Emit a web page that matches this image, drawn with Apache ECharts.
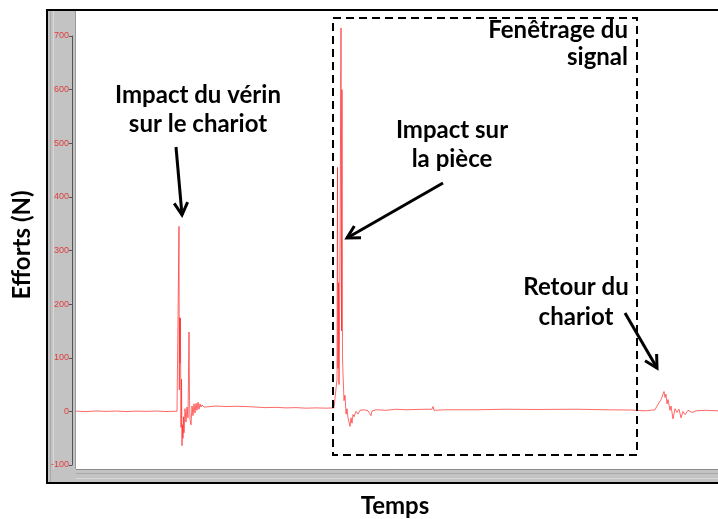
<!DOCTYPE html>
<html>
<head>
<meta charset="utf-8">
<script src="https://cdn.jsdelivr.net/npm/echarts@6/dist/echarts.min.js"></script>
<style>
  html, body { margin: 0; padding: 0; background: #fff; }
  #chart { width: 718px; height: 519px; }
</style>
</head>
<body>
<div id="chart"></div>
<script>
// Force signal recorded by the sensor: sample index and effort (N)
const sampleIndex = [
  0, 10, 20, 30, 40, 50, 60, 70, 80, 90, 101,
  102, 103, 103.3, 103.6, 104, 104.4, 105, 105.5, 106, 106.5, 107, 107.5, 108, 109, 110, 111, 112,
  113, 113.5, 114, 115, 116, 117, 118, 119, 120, 121, 122, 123, 124, 125, 126, 128, 130, 135, 140,
  150, 160, 170, 171, 172, 180, 190, 200, 210, 220, 230, 240, 250, 258,
  260, 261, 261.5, 262, 262.5, 263, 264, 265, 265.5, 266, 266.5, 267, 268, 269, 270, 271, 272, 273,
  274, 275, 276, 277, 278, 280, 282, 284, 286, 288, 292, 295, 296, 300, 310, 320, 330, 340, 350,
  356, 357, 358, 370, 400, 430, 460, 500, 530, 555, 570,
  579, 581, 583, 585, 586, 588, 589, 590, 591, 592, 594, 595, 597, 599, 601, 603, 605, 607, 609,
  612, 616, 620, 630, 642
];
const effortN = [
  0.5, -0.5, 0.8, 0, 0.6, -0.4, 0.5, 0, 0.7, -0.3, 0.3,
  0, 345, 40, 175, 90, 174, -30, 60, -64, -25, -50, -10, -40, 5, -20, 8, -12,
  148, 20, -15, -25, 10, -8, 14, -3, 15, 2, 17, 4, 14, 8, 12, 8, 10, 9, 10,
  9, 9.5, 9, 12, 8, 8, 7, 7.5, 6.5, 7, 6, 6.5, 6, 6.5,
  7, 60, 455, 80, 240, 50, 300, 715, 150, 600, 100, 70, 20, 30, -5, 5, -12, -20,
  -28, -12, -22, -6, -10, 0, -5, 2, -1, 3, 1, -8, 1, 3, 2, 4, 3, 3.5, 4,
  4, 9, 2, 3, 3, 4, 3.5, 4, 3, 2.5, 1,
  3, 10, 12, 22, 20, 37, 26, 32, 14, 22, 2, 10, -14, 5, -2, 4, -12, 0, -6,
  2, -2, 1, 2, 1
];
const yTickMin = -100;
const yTickMax = 700;
const yTickStep = 100;

const seriesData = sampleIndex.map((t, i) => [t, effortN[i]]);

const chart = echarts.init(document.getElementById('chart'), null, { renderer: 'canvas' });

const labelFont = 'bold 24px Lato';

// Arrow with an open chevron head, from tail (x1,y1) to tip (x2,y2)
function arrow(x1, y1, x2, y2) {
  const ang = Math.atan2(y2 - y1, x2 - x1);
  const hl = 14, spread = 0.5;
  const a = [x2 - hl * Math.cos(ang - spread), y2 - hl * Math.sin(ang - spread)];
  const b = [x2 - hl * Math.cos(ang + spread), y2 - hl * Math.sin(ang + spread)];
  return [
    { type: 'line', z: 100, shape: { x1, y1, x2, y2 }, style: { stroke: '#000', lineWidth: 3 } },
    { type: 'polyline', z: 100, shape: { points: [a, [x2, y2], b] }, style: { stroke: '#000', lineWidth: 3, fill: null } }
  ];
}

function label(text, x, y, align) {
  return { type: 'text', z: 100, style: { text, x, y, font: labelFont, fill: '#000', align: align || 'center', verticalAlign: 'middle' } };
}

const graphics = [
  // panel frame: grey strips on the left and bottom
  { type: 'rect', z: -10, shape: { x: 47, y: 10, width: 29, height: 473 }, style: { fill: '#c3c3c3' } },
  { type: 'rect', z: -10, shape: { x: 47, y: 469, width: 680, height: 14 }, style: { fill: '#c3c3c3' } },
  { type: 'line', z: -9, shape: { x1: 50.5, y1: 11, x2: 50.5, y2: 482 }, style: { stroke: '#a8a8a8', lineWidth: 1 } },
  { type: 'line', z: -9, shape: { x1: 53.5, y1: 11, x2: 53.5, y2: 469 }, style: { stroke: '#d8d8d8', lineWidth: 1 } },
  { type: 'line', z: -9, shape: { x1: 75.5, y1: 11, x2: 75.5, y2: 469 }, style: { stroke: '#9a9a9a', lineWidth: 1 } },
  { type: 'line', z: -9, shape: { x1: 76, y1: 469.5, x2: 720, y2: 469.5 }, style: { stroke: '#8a8a8a', lineWidth: 1 } },
  { type: 'line', z: -9, shape: { x1: 76, y1: 473.5, x2: 720, y2: 473.5 }, style: { stroke: '#a8a8a8', lineWidth: 1 } },
  { type: 'line', z: -9, shape: { x1: 76, y1: 478.5, x2: 720, y2: 478.5 }, style: { stroke: '#d8d8d8', lineWidth: 1 } },
  { type: 'rect', z: 50, shape: { x: 47, y: 10, width: 690, height: 473 }, style: { fill: null, stroke: '#000', lineWidth: 2 } },

  // signal window
  { type: 'rect', z: 90, shape: { x: 333, y: 18, width: 304, height: 437 }, style: { fill: null, stroke: '#000', lineWidth: 2, lineDash: [8, 5] } },

  label('Impact du vérin', 198, 95),
  label('sur le chariot', 198, 124),
  label('Impact sur', 452, 130),
  label('la pièce', 452, 159),
  label('Fenêtrage du', 628, 30, 'right'),
  label('signal', 628, 57, 'right'),
  label('Retour du', 576, 287),
  label('chariot', 576, 317),
  ...arrow(176, 147, 182, 215),
  ...arrow(443, 183, 347, 238),
  ...arrow(625, 313, 657, 368),

  // axis titles
  { type: 'text', z: 100, x: 22, y: 245, rotation: Math.PI / 2,
    style: { text: 'Efforts (N)', x: 0, y: 0, font: labelFont, fill: '#000', align: 'center', verticalAlign: 'middle' } },
  { type: 'text', z: 100, style: { text: 'Temps', x: 395, y: 506, font: labelFont, fill: '#000', align: 'center', verticalAlign: 'middle' } }
];

chart.setOption({
  animation: false,
  backgroundColor: '#fff',
  grid: { left: 76, right: 0, top: 36, bottom: 54, containLabel: false },
  xAxis: {
    type: 'value', min: 0, max: 642,
    show: false
  },
  yAxis: {
    type: 'value', min: yTickMin, max: yTickMax, interval: yTickStep,
    offset: 4,
    axisLine: { show: true, onZero: false, lineStyle: { color: '#555', width: 1 } },
    axisTick: { show: true, length: 3, lineStyle: { color: '#555' } },
    axisLabel: { color: '#e03c3c', fontSize: 9, fontFamily: 'Liberation Sans', margin: 3 },
    splitLine: { show: false }
  },
  series: [{
    type: 'line',
    data: seriesData,
    showSymbol: false,
    clip: false,
    lineStyle: { color: '#ff2a2a', width: 1, opacity: 0.7 },
    z: 5
  }],
  graphic: { elements: graphics }
});
</script>
</body>
</html>
